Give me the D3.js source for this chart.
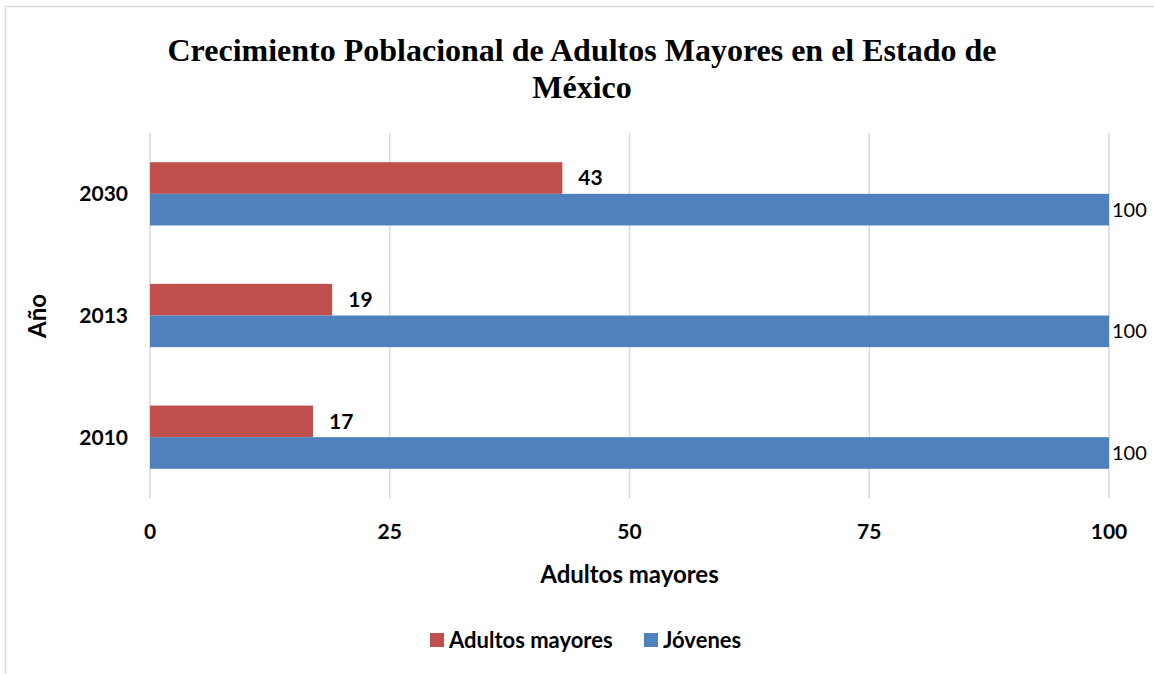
<!DOCTYPE html>
<html><head><meta charset="utf-8">
<script src="https://cdn.jsdelivr.net/npm/d3@7"></script>
<style>body{margin:0;background:#fff;}svg{display:block;}</style>
</head><body>
<svg id="c" width="1154" height="674"></svg>
<script>
const categories = ["2010", "2013", "2030"];
const seriesNames = ["Adultos mayores", "Jóvenes"];
const adultosMayores = [17, 19, 43];
const jovenes = [100, 100, 100];
const xTicks = [0, 25, 50, 75, 100];
const colors = ["#c0504d", "#4f81bd"];
const font = "Lato, 'Open Sans', sans-serif";

const svg = d3.select("#c");
svg.append("rect").attr("x",5.5).attr("y",6.5).attr("width",1160).attr("height",680)
  .attr("fill","none").attr("stroke","#d9d9d9").attr("stroke-width",1.5);

const m = {left:150, right:1109, top:133, bottom:498};
const x = d3.scaleLinear().domain([0,100]).range([m.left, m.right]);
const y = d3.scaleBand().domain(categories.slice().reverse()).range([m.top, m.bottom]).paddingInner(0.48).paddingOuter(0.24);
const sub = d3.scaleBand().domain(seriesNames).range([0, y.bandwidth()]);

svg.append("g").selectAll("line").data(xTicks).join("line")
  .attr("x1",d=>x(d)).attr("x2",d=>x(d)).attr("y1",m.top).attr("y2",m.bottom)
  .attr("stroke","#d9d9d9").attr("stroke-width",1.5);

const series = [adultosMayores, jovenes];
series.forEach((vals, si) => {
  const g = svg.append("g");
  g.selectAll("rect").data(categories).join("rect")
    .attr("x", x(0)).attr("y", c => y(c) + sub(seriesNames[si]))
    .attr("width", (c,i) => x(vals[i]) - x(0)).attr("height", sub.bandwidth())
    .attr("fill", colors[si]);
  g.selectAll("text").data(categories).join("text")
    .attr("x", (c,i) => x(vals[i]) + (si===0 ? 16 : 3))
    .attr("y", c => y(c) + sub(seriesNames[si]) + sub.bandwidth()/2)
    .attr("dy","0.35em")
    .attr("font-family", font).attr("font-size", si===0 ? 21 : 20)
    .attr("font-weight", si===0 ? "bold" : "normal")
    .attr("fill","#000")
    .text((c,i) => vals[i]);
});

svg.append("g").selectAll("text").data(categories).join("text")
  .attr("x", 128).attr("y", c => y(c) + y.bandwidth()/2).attr("dy","0.35em")
  .attr("text-anchor","end").attr("font-family",font).attr("font-size",21).attr("font-weight","bold")
  .text(d=>d);

svg.append("g").selectAll("text").data(xTicks).join("text")
  .attr("x", d=>x(d)).attr("y", 532).attr("dy","0.35em").attr("text-anchor","middle")
  .attr("font-family",font).attr("font-size",21).attr("font-weight","bold").text(d=>d);

svg.append("text").attr("x", (m.left+m.right)/2).attr("y", 575).attr("dy","0.35em")
  .attr("text-anchor","middle").attr("font-family",font).attr("font-size",24).attr("font-weight","bold")
  .text("Adultos mayores");
svg.append("text").attr("transform","translate(38,316) rotate(-90)").attr("dy","0.35em")
  .attr("text-anchor","middle").attr("font-family",font).attr("font-size",24).attr("font-weight","bold")
  .text("Año");

const title = svg.append("text").attr("text-anchor","middle").attr("font-family","'Liberation Serif', 'Times New Roman', serif")
  .attr("font-size",32).attr("font-weight","bold");
title.append("tspan").attr("x",582).attr("y",61).text("Crecimiento Poblacional de Adultos Mayores en el Estado de");
title.append("tspan").attr("x",582).attr("y",98).text("México");

const legX = [430, 644];
const leg = svg.append("g").selectAll("g").data(seriesNames).join("g")
  .attr("transform",(d,i)=>`translate(${legX[i]},640)`);
leg.append("rect").attr("x",0).attr("y",-7).attr("width",14).attr("height",14).attr("fill",(d,i)=>colors[i]);
leg.append("text").attr("x",19).attr("dy","0.35em").attr("font-family",font).attr("font-size",22)
  .attr("font-weight","bold").text(d=>d);
</script>
</body></html>
